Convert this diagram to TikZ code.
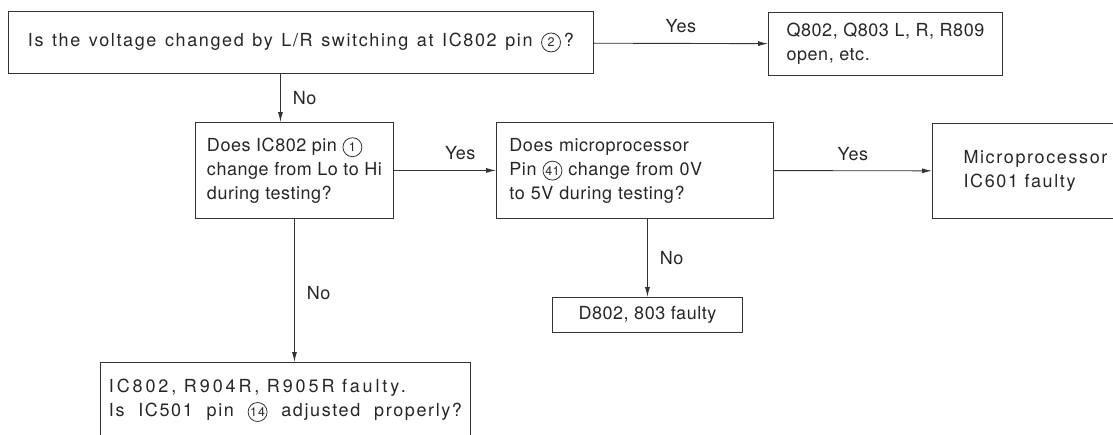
\documentclass[tikz,border=0pt]{standalone}
\usepackage{fontspec}
\setmainfont{TeX Gyre Heros}[LetterSpace=3]
\newfontfamily\widefont{TeX Gyre Heros}[LetterSpace=9]
\newfontfamily\widerfont{TeX Gyre Heros}[LetterSpace=16]
\usetikzlibrary{arrows.meta,positioning}
\newcommand{\pinno}[1]{\tikz[baseline=(pn.base)]\node[draw=black!80, line width=0.8pt, circle, inner sep=0pt, minimum size=19pt, font=\fontsize{12.5}{12.5}\selectfont] (pn) {#1};}
\newcommand{\spread}[2]{\makebox[#1][s]{#2}}
\tikzset{
  box/.style={draw=black!80, line width=0.9pt, rectangle, align=left, font=\fontsize{18}{24}\selectfont, inner sep=0pt, anchor=north west, text=black!85},
  arr/.style={-{Latex[length=10pt,width=5pt]}, line width=0.9pt, black!80},
  lbl/.style={font=\fontsize{18}{18}\selectfont, inner sep=2pt, text=black!85},
}

\begin{document}
\begin{tikzpicture}[x=1pt, y=-1pt]
\clip (0,0) rectangle (1113,434);
\node[box, minimum width=585, minimum height=62] (q1) at (8,11) {\spread{546pt}{\widefont Is the voltage changed by L/R switching at IC802 pin \pinno{2}\,?}};
\node[box, minimum width=234, minimum height=63] (r1) at (768,12) {Q802, Q803 L, R, R809\\open, etc.};
\node[box, minimum width=198, minimum height=96] (q2) at (195,122) {Does IC802 pin \pinno{1}\\change from Lo to Hi\\during testing?};
\node[box, minimum height=96, text width=251, inner xsep=13] (q3) at (496,122) {Does microprocessor\\Pin \pinno{41} change from 0V\\to 5V during testing?};
\node[box, minimum width=206, minimum height=95, font=\fontsize{18}{24}\widefont] (r2) at (932,123) {Microprocessor\\IC601 faulty};
\node[box, minimum width=190, minimum height=35] (r3) at (552,297) {D802, 803 faulty};
\node[box, minimum width=370, minimum height=76] (r4) at (100,362) {\spread{297pt}{\widerfont IC802, R904R, R905R faulty.}\hfill\\\spread{353pt}{\widefont Is IC501 pin \pinno{14} adjusted properly?}};
\draw[arr] (q1) -- node[lbl, above=8pt]{Yes} (r1);
\draw[arr] ([xshift=-14pt]q2.north |- q1.south) -- node[lbl, right=10pt]{No} ([xshift=-14pt]q2.north);
\draw[arr] (q2) -- node[lbl, above=8pt, pos=0.65]{Yes} (q3);
\draw[arr] (q3) -- node[lbl, above=8pt]{Yes} (r2);
\draw[arr] (q2.south) -- node[lbl, right=10pt, pos=0.52]{No} (q2.south |- r4.north);
\draw[arr] (r3.north |- q3.south) -- node[lbl, right=10pt]{No} (r3.north);
\end{tikzpicture}
\end{document}
